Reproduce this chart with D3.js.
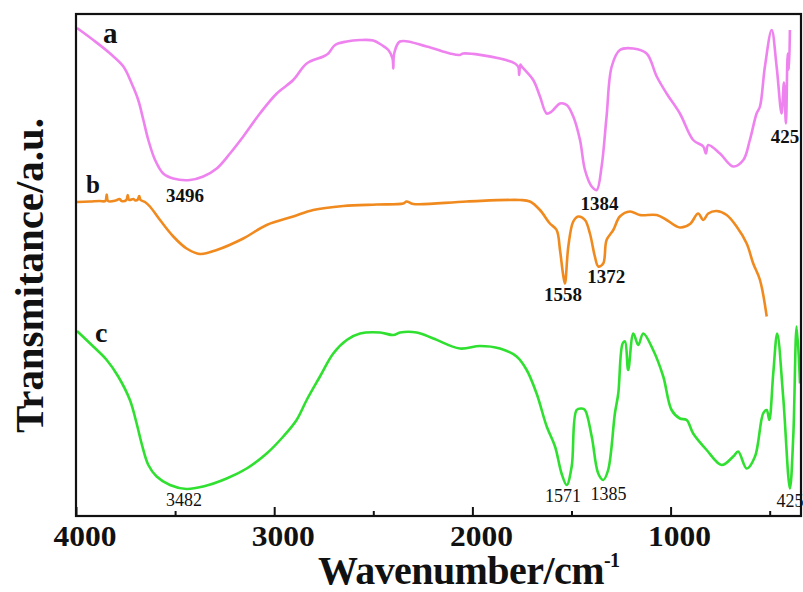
<!DOCTYPE html>
<html>
<head>
<meta charset="utf-8">
<script src="https://cdn.jsdelivr.net/npm/d3@7"></script>
<style>
  body { margin: 0; background: #fff; }
  text { font-family: "Liberation Serif", "Times New Roman", serif; font-weight: bold; fill: #111; }
</style>
</head>
<body>
<svg id="chart" width="803" height="592"></svg>
<script>
// spectra: [wavenumber cm-1, transmittance a.u.]
var specA = [[3995,97.6],[3913,95.2],[3828,92.5],[3761,89.9],[3719,86.5],[3686,83.2],[3660,79.2],[3635,75.2],
  [3601,71.2],[3560,68.5],[3509,67.5],[3425,67.2],[3358,67.9],[3290,69.5],[3223,72.5],[3156,75.9],[3072,80.5],
  [2987,84.5],[2904,87.2],[2836,90.5],[2752,91.9],[2727,92.5],[2693,94.2],[2634,94.9],[2567,95.2],[2500,95.1],
  [2458,94.2],[2424,93.2],[2403,91.5],[2399,89.5],[2394,92.6],[2365,94.9],[2231,93.9],[2113,92.5],[2063,92.2],
  [2046,92.5],[1861,91.5],[1785,90.5],[1768,89.8],[1764,88.2],[1758,90.3],[1751,89.9],[1693,87.2],[1659,83.9],
  [1625,80.5],[1600,80.9],[1558,82.5],[1524,82.2],[1491,79.9],[1457,75.2],[1432,69.2],[1398,65.9],[1373,65.2],
  [1348,69.9],[1323,79.9],[1297,89.9],[1256,93.2],[1188,93.5],[1121,92.5],[1070,87.9],[1020,84.5],[953,80.5],
  [886,75.2],[835,73.9],[822,72.5],[810,74.2],[751,72.5],[684,69.9],[633,71.2],[600,75.2],[566,80.5],[549,81.9],
  [524,89.9],[490,97.2],[465,89.9],[440,80.5],[428,86.7],[418,78.5],[409,92.5],[403,89.3],[398,97.2]];

var specB = [[3995,62.8],[3930,62.9],[3880,63.0],[3852,63.0],[3845,64.3],[3838,63.0],[3800,63.1],[3780,63.4],
  [3770,63.0],[3746,63.2],[3739,64.2],[3732,63.2],[3710,63.4],[3700,63.1],[3688,63.3],[3681,64.0],[3674,63.2],
  [3652,62.8],[3627,61.9],[3576,59.2],[3509,55.9],[3442,53.5],[3374,52.4],[3290,53.2],[3156,55.5],[3038,58.2],
  [2904,59.9],[2803,61.2],[2651,62.0],[2483,62.3],[2349,62.5],[2332,62.9],[2298,62.4],[2029,62.9],[1760,63.2],
  [1710,62.9],[1659,61.2],[1609,58.5],[1575,57.2],[1558,53.2],[1542,48.2],[1533,46.5],[1516,53.9],[1491,58.9],
  [1466,59.9],[1432,59.2],[1407,56.5],[1382,51.9],[1365,49.9],[1340,50.5],[1323,55.2],[1289,57.2],[1256,59.9],
  [1205,60.9],[1155,60.2],[1070,60.2],[1020,59.2],[953,57.7],[902,58.4],[861,60.5],[835,59.2],[810,60.5],
  [768,61.0],[717,60.2],[667,57.9],[616,54.5],[583,50.5],[549,47.2],[515,39.9]];

var specC = [[3995,37.0],[3913,33.9],[3845,31.2],[3787,27.9],[3728,23.2],[3694,18.5],[3669,14.5],[3635,10.2],
  [3593,7.9],[3526,6.2],[3442,5.4],[3358,5.9],[3240,7.5],[3139,9.5],[3038,12.5],[2954,15.9],[2887,19.2],
  [2836,23.2],[2769,27.9],[2702,32.5],[2634,35.2],[2567,36.5],[2466,36.7],[2399,36.2],[2365,36.7],[2281,36.7],
  [2197,35.5],[2063,33.5],[1962,34.0],[1861,33.5],[1777,31.9],[1726,29.2],[1676,24.5],[1625,17.9],[1583,13.9],
  [1550,8.5],[1524,6.2],[1499,9.9],[1474,21.2],[1449,21.5],[1432,21.2],[1398,15.9],[1365,8.5],[1340,7.2],
  [1315,9.2],[1281,20.5],[1264,24.5],[1242,34.5],[1230,34.9],[1214,29.2],[1188,36.5],[1163,34.2],[1138,36.5],
  [1088,33.2],[1037,27.9],[995,21.2],[953,19.5],[919,19.2],[886,16.5],[818,13.2],[742,10.2],[684,11.9],
  [659,12.9],[616,9.5],[574,11.9],[533,20.5],[515,21.2],[502,19.2],[482,28.5],[462,36.5],[432,23.9],
  [398,5.5],[381,15.9],[364,37.9],[347,26.5]];

var seriesNames = ['a', 'b', 'c'];
var seriesColors = ['#ee82ee', '#f08a1e', '#30e030'];

// peak labels: [text, wavenumber position, transmittance position, bold?]
var peakLabels = [['3496',3450,62.8,true],['1384',1359,61.2,true],['425',423,74.6,true],
  ['1558',1543,43.0,true],['1372',1324,46.6,true],
  ['3482',3455,2.0,false],['1571',1543,2.8,false],['1385',1313,3.2,false],['425',397,1.8,false]];

var majorTicks = [4000, 3000, 2000, 1000];
var minorTicks = [3500, 2500, 1500, 500];

makeChart();

function makeChart() {
  var svg = d3.select('#chart');
  var pLeft = 76, pRight = 801, pTop = 14, pBottom = 516;

  var x = d3.scaleLinear().domain([4000, 342]).range([pLeft, pRight]);
  var y = d3.scaleLinear().domain([0, 100.4]).range([pBottom, pTop]);

  var line = d3.line()
    .x(d => x(d[0]))
    .y(d => y(d[1]))
    .curve(d3.curveCatmullRom.alpha(0.5));

  [specA, specB, specC].forEach(function(s, i) {
    svg.append('path')
      .datum(s)
      .attr('d', line)
      .attr('fill', 'none')
      .attr('stroke', seriesColors[i])
      .attr('stroke-width', 2.6)
      .attr('stroke-linejoin', 'round');
  });

  // frame
  svg.append('rect')
    .attr('x', pLeft).attr('y', pTop)
    .attr('width', pRight - pLeft).attr('height', pBottom - pTop)
    .attr('fill', 'none').attr('stroke', '#111').attr('stroke-width', 2.2);

  // ticks point inward
  var xAxis = svg.append('g')
    .attr('transform', 'translate(0,' + pBottom + ')')
    .call(d3.axisBottom(x).tickValues(majorTicks).tickSize(-9).tickSizeOuter(0).tickFormat(d3.format('d')));
  xAxis.select('.domain').remove();
  xAxis.selectAll('line').attr('stroke', '#111').attr('stroke-width', 2);
  xAxis.selectAll('text')
    .attr('y', 30).attr('dy', 0).attr('dx', 8.5)
    .attr('textLength', 63)
    .attr('lengthAdjust', 'spacingAndGlyphs')
    .style('font-size', '30px')
    .style('font-family', '"Liberation Serif", serif')
    .style('font-weight', 'bold')
    .attr('fill', '#111');

  var xMinor = svg.append('g')
    .attr('transform', 'translate(0,' + pBottom + ')')
    .call(d3.axisBottom(x).tickValues(minorTicks).tickSize(-5).tickSizeOuter(0).tickFormat(''));
  xMinor.select('.domain').remove();
  xMinor.selectAll('line').attr('stroke', '#111').attr('stroke-width', 2);

  // axis titles
  var xt = svg.append('text')
    .attr('x', 318).attr('y', 584)
    .attr('textLength', 302)
    .style('font-size', '40px');
  xt.append('tspan').text('Wavenumber/cm');
  xt.append('tspan').attr('dy', -17).style('font-size', '20px').text('-1');

  svg.append('text')
    .attr('transform', 'translate(43,433) rotate(-90)')
    .attr('textLength', 315)
    .attr('lengthAdjust', 'spacingAndGlyphs')
    .style('font-size', '41px')
    .text('Transmitance/a.u.');

  // series letters
  var letterPos = [[103, 43, 29], [86, 193, 25], [95, 342, 28]];
  seriesNames.forEach(function(n, i) {
    svg.append('text')
      .attr('x', letterPos[i][0]).attr('y', letterPos[i][1])
      .style('font-size', letterPos[i][2] + 'px')
      .text(n);
  });

  // peak annotations
  svg.selectAll('.peak')
    .data(peakLabels)
    .enter().append('text')
    .attr('class', 'peak')
    .attr('x', d => x(d[1]))
    .attr('y', d => y(d[2]))
    .attr('text-anchor', 'middle')
    .style('font-size', d => d[3] ? '19px' : '18px')
    .style('font-weight', d => d[3] ? 'bold' : 'normal')
    .text(d => d[0]);
}
</script>
</body>
</html>
